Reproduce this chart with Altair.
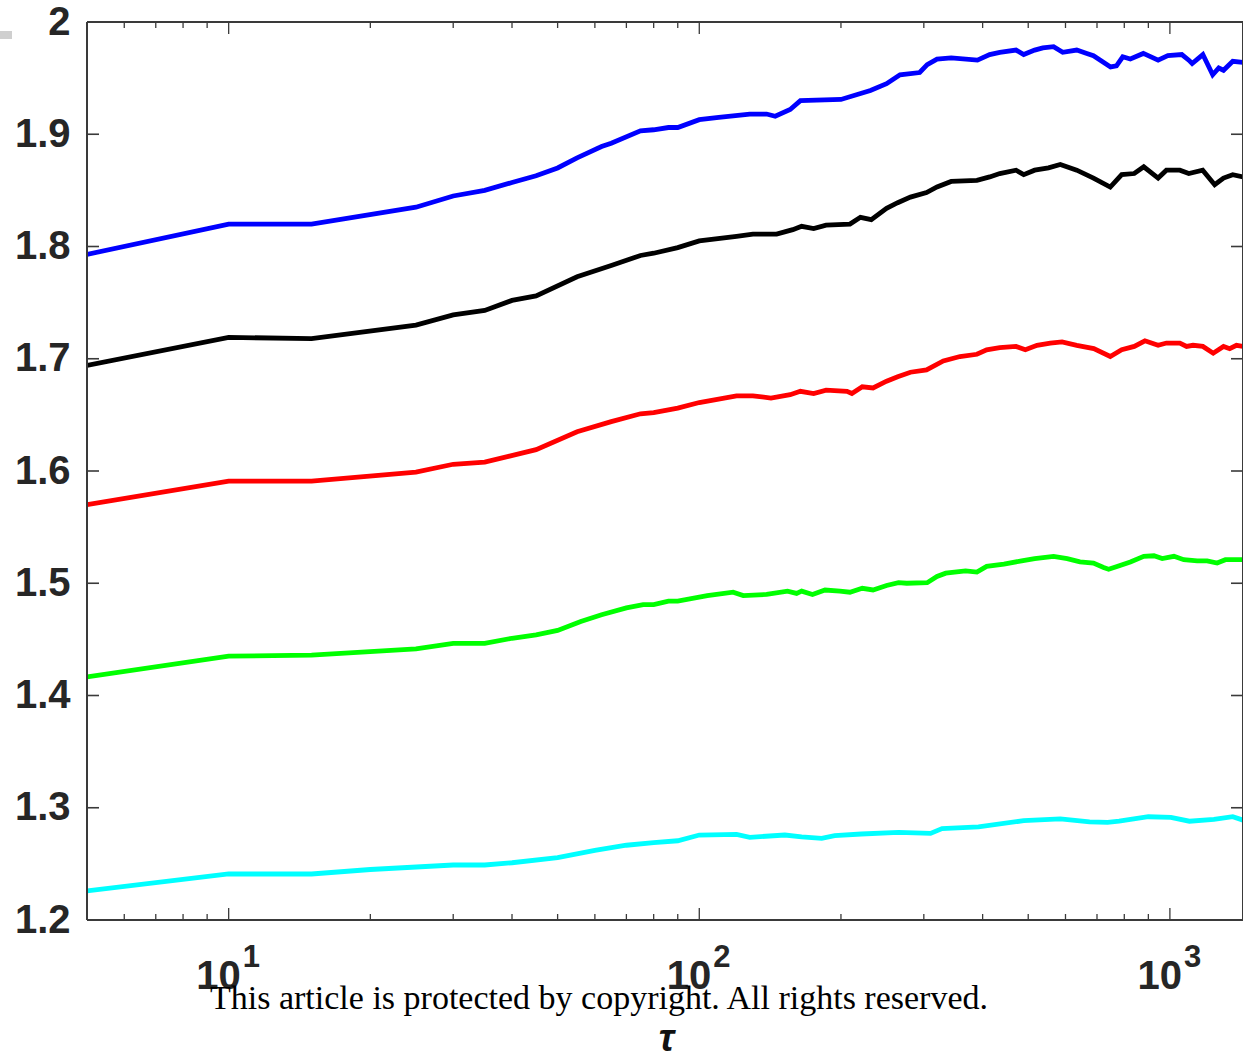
import altair as alt
import pandas as pd

# ---------------- data ----------------
tau_blue = [5, 10, 15, 25, 30, 35, 40, 45, 50, 55, 62, 65, 75, 80, 86, 90, 100, 110, 128, 139,
            145, 156, 164, 200, 231, 250, 267, 294, 305, 320, 343, 390, 414, 435, 471, 489, 516,
            537, 566, 592, 634, 666, 688, 748, 770, 794, 824, 878, 944, 990, 1060, 1097, 1115,
            1175, 1233, 1270, 1300, 1360, 1430]
val_blue = [1.793, 1.820, 1.820, 1.835, 1.845, 1.850, 1.857, 1.863, 1.870, 1.879, 1.889, 1.892,
            1.903, 1.904, 1.906, 1.906, 1.913, 1.915, 1.918, 1.918, 1.916, 1.922, 1.930, 1.931,
            1.939, 1.945, 1.953, 1.955, 1.962, 1.967, 1.968, 1.966, 1.971, 1.973, 1.975, 1.971,
            1.975, 1.977, 1.978, 1.973, 1.975, 1.972, 1.970, 1.960, 1.961, 1.969, 1.967, 1.972,
            1.966, 1.970, 1.971, 1.966, 1.963, 1.971, 1.953, 1.959, 1.957, 1.965, 1.964]

tau_black = [5, 10, 15, 25, 30, 35, 40, 45, 55, 65, 75, 80, 90, 100, 120, 130, 146, 158, 165,
             175, 186, 209, 220, 232, 250, 264, 281, 304, 320, 343, 389, 414, 435, 471, 489, 516,
             552, 585, 634, 688, 747, 790, 840, 880, 944, 983, 1050, 1097, 1174, 1245, 1300,
             1360, 1430]
val_black = [1.694, 1.719, 1.718, 1.730, 1.739, 1.743, 1.752, 1.756, 1.773, 1.783, 1.792, 1.794,
             1.799, 1.805, 1.809, 1.811, 1.811, 1.815, 1.818, 1.816, 1.819, 1.820, 1.826, 1.824,
             1.834, 1.839, 1.844, 1.848, 1.853, 1.858, 1.859, 1.862, 1.865, 1.868, 1.864, 1.868,
             1.870, 1.873, 1.868, 1.861, 1.853, 1.864, 1.865, 1.871, 1.861, 1.868, 1.868, 1.865,
             1.868, 1.855, 1.861, 1.864, 1.862]

tau_red = [5, 10, 15, 25, 30, 35, 45, 55, 65, 75, 80, 90, 100, 120, 130, 142, 156, 164, 175, 186,
           206, 211, 222, 234, 250, 264, 281, 304, 330, 358, 389, 408, 435, 471, 493, 522, 557,
           590, 634, 689, 747, 790, 840, 885, 944, 983, 1050, 1085, 1120, 1175, 1236, 1300,
           1340, 1385, 1430]
val_red = [1.570, 1.591, 1.591, 1.599, 1.606, 1.608, 1.619, 1.635, 1.644, 1.651, 1.652, 1.656,
           1.661, 1.667, 1.667, 1.665, 1.668, 1.671, 1.669, 1.672, 1.671, 1.669, 1.675, 1.674,
           1.680, 1.684, 1.688, 1.690, 1.698, 1.702, 1.704, 1.708, 1.710, 1.711, 1.708, 1.712,
           1.714, 1.715, 1.712, 1.709, 1.702, 1.708, 1.711, 1.716, 1.712, 1.714, 1.714, 1.711,
           1.712, 1.711, 1.705, 1.711, 1.709, 1.712, 1.711]

tau_green = [5, 10, 15, 25, 30, 35, 40, 45, 50, 56, 62, 70, 76, 80, 86, 90, 104, 118, 124, 139,
             154, 161, 165, 174, 185, 199, 209, 222, 234, 250, 265, 276, 305, 320, 334, 368, 389,
             408, 444, 484, 516, 566, 605, 644, 688, 723, 741, 772, 824, 880, 925, 963, 1020,
             1070, 1143, 1200, 1260, 1312, 1430]
val_green = [1.4165, 1.435, 1.436, 1.4415, 1.4465, 1.4465, 1.451, 1.454, 1.458, 1.466, 1.472,
             1.478, 1.481, 1.481, 1.484, 1.484, 1.489, 1.492, 1.489, 1.490, 1.493, 1.491, 1.493,
             1.490, 1.494, 1.493, 1.492, 1.4955, 1.494, 1.498, 1.5005, 1.500, 1.5005, 1.506,
             1.509, 1.511, 1.510, 1.515, 1.517, 1.520, 1.522, 1.524, 1.522, 1.519, 1.518, 1.514,
             1.5125, 1.515, 1.519, 1.524, 1.5245, 1.522, 1.524, 1.521, 1.520, 1.520, 1.518,
             1.521, 1.521]

tau_cyan = [5, 10, 15, 20, 30, 35, 40, 50, 60, 70, 80, 90, 100, 120, 128, 152, 165, 182, 194,
            221, 265, 310, 328, 392, 489, 585, 675, 737, 780, 900, 1005, 1100, 1240, 1360, 1430]
val_cyan = [1.226, 1.241, 1.241, 1.245, 1.249, 1.249, 1.251, 1.2555, 1.262, 1.2666, 1.269,
            1.2706, 1.2757, 1.2763, 1.2737, 1.2757, 1.274, 1.2728, 1.2752, 1.2766, 1.2781,
            1.2772, 1.2815, 1.283, 1.2885, 1.290, 1.2875, 1.287, 1.288, 1.292, 1.2915, 1.288,
            1.2897, 1.292, 1.289]

series_names = ["blue", "black", "red", "green", "cyan"]
series_colors = ["#0000FF", "#000000", "#FF0000", "#00FF00", "#00FFFF"]

y_tick_values = [1.2, 1.3, 1.4, 1.5, 1.6, 1.7, 1.8, 1.9, 2.0]
x_major = [10, 100, 1000]
x_exponents = ["1", "2", "3"]
x_minor = [6, 7, 8, 9, 20, 30, 40, 50, 60, 70, 80, 90, 200, 300, 400, 500, 600, 700, 800, 900]
watermark = "This article is protected by copyright. All rights reserved."
x_title = "τ"

# ---------------- build tables ----------------
rows = []
for name, ts, vs in zip(series_names,
                        [tau_blue, tau_black, tau_red, tau_green, tau_cyan],
                        [val_blue, val_black, val_red, val_green, val_cyan]):
    for t, v in zip(ts, vs):
        rows.append({"series": name, "tau": t, "value": v})
df = pd.DataFrame(rows)

W, H = 1156, 898
FONT = "Liberation Sans"
TXT = "#262626"
AX = "#3a3a3a"

xscale = alt.Scale(type="log", domain=[5, 1430], nice=False)
yscale = alt.Scale(domain=[1.2, 2.0], nice=False, zero=False)

x_axis = alt.Axis(labels=False, ticks=False, domain=False, grid=False,
                  title=x_title, titleFont=FONT, titleFontSize=38,
                  titleFontStyle="italic", titleFontWeight="bold", titleColor="#111111",
                  titleX=579, titleY=130, titleBaseline="alphabetic")
y_axis = alt.Axis(values=y_tick_values, format=".2~g", labelFont=FONT,
                  labelFontSize=40, labelFontWeight="bold", labelColor=TXT,
                  labelPadding=17, ticks=False, tickSize=0, domain=False, grid=False,
                  title=None, labelBaseline="middle")

lines = alt.Chart(df).mark_line(strokeWidth=4.8, clip=True).encode(
    x=alt.X("tau:Q", scale=xscale, axis=x_axis),
    y=alt.Y("value:Q", scale=yscale, axis=y_axis),
    color=alt.Color("series:N", scale=alt.Scale(domain=series_names, range=series_colors),
                    legend=None),
)

ydf = pd.DataFrame({"value": y_tick_values})
y_left = alt.Chart(ydf).mark_rule(color=AX, strokeWidth=1.6).encode(
    y=alt.Y("value:Q", scale=yscale, axis=y_axis), x=alt.value(0), x2=alt.value(12))
y_right = alt.Chart(ydf).mark_rule(color=AX, strokeWidth=1.6).encode(
    y=alt.Y("value:Q", scale=yscale, axis=y_axis), x=alt.value(W), x2=alt.value(W - 12))

majdf = pd.DataFrame({"tau": x_major, "exp": x_exponents, "base": ["10"] * 3,
                      "value": [1.2] * 3})
mindf = pd.DataFrame({"tau": x_minor})

def xrule(data, y0, y1):
    return alt.Chart(data).mark_rule(color=AX, strokeWidth=1.3).encode(
        x=alt.X("tau:Q", scale=xscale, axis=x_axis), y=alt.value(y0), y2=alt.value(y1))

x_ticks = [xrule(majdf, H, H - 12), xrule(majdf, 0, 12),
           xrule(mindf, H, H - 6), xrule(mindf, 0, 6)]

# frame (box axes)
frame_df = pd.DataFrame({"side": ["frame"]})
def frule(x0, x1, y0, y1, color=AX, width=2):
    return alt.Chart(frame_df).mark_rule(color=color, strokeWidth=width).encode(
        x=alt.value(x0), x2=alt.value(x1), y=alt.value(y0), y2=alt.value(y1))

frame = [frule(0, W, 0, 0), frule(0, W, H, H), frule(0, 0, 0, H), frule(W, W, 0, H)]
artifact = frule(-87, -75, 13, 13, color="#cfcfcf", width=8)

base_lbl = alt.Chart(majdf).mark_text(
    align="right", baseline="alphabetic", dx=12, dy=69, font=FONT, fontSize=40,
    fontWeight="bold", color=TXT).encode(
    x=alt.X("tau:Q", scale=xscale, axis=x_axis),
    y=alt.Y("value:Q", scale=yscale, axis=y_axis), text="base:N")
exp_lbl = alt.Chart(majdf).mark_text(
    align="left", baseline="alphabetic", dx=14, dy=47, font=FONT, fontSize=31,
    fontWeight="bold", color=TXT).encode(
    x=alt.X("tau:Q", scale=xscale, axis=x_axis),
    y=alt.Y("value:Q", scale=yscale, axis=y_axis), text="exp:N")

wm = alt.Chart(pd.DataFrame({"t": [watermark]})).mark_text(
    align="center", baseline="alphabetic", font="Liberation Serif", fontSize=34,
    color="#000000").encode(text="t:N", x=alt.value(512), y=alt.value(987))

chart = alt.layer(lines, y_left, y_right, *x_ticks, *frame, artifact,
                  base_lbl, exp_lbl, wm).properties(
    width=W, height=H,
    padding={"left": 87, "top": 22, "right": 0, "bottom": 139},
    autosize=alt.AutoSizeParams(type="none"),
).configure_view(stroke=None).configure(background="white")

chart.save("out.html", embed_options={"renderer": "svg", "actions": False})
